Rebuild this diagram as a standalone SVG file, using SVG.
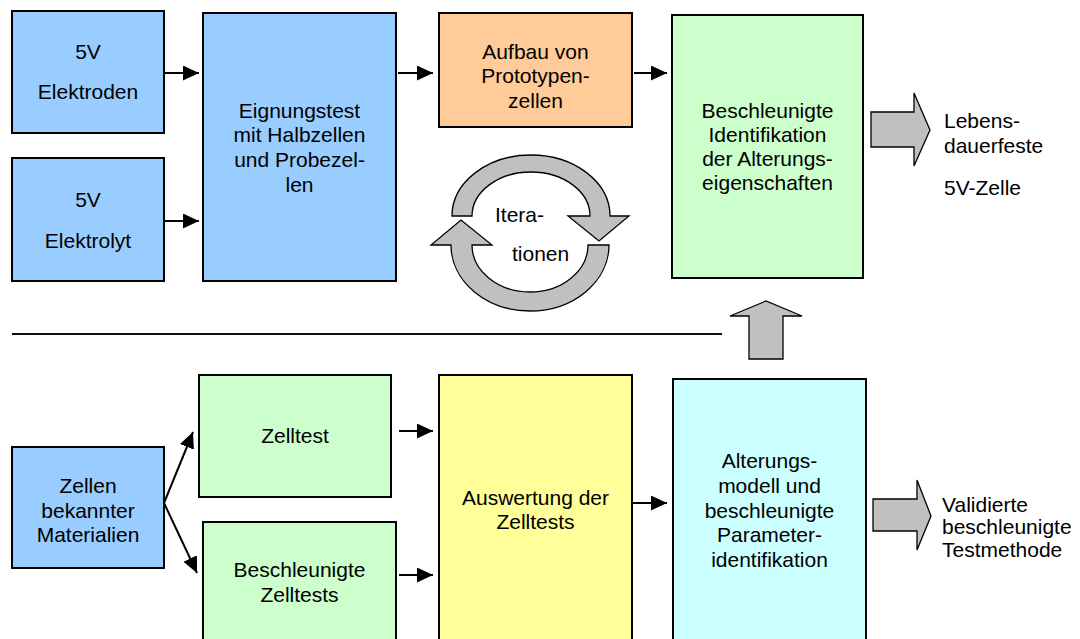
<svg xmlns="http://www.w3.org/2000/svg" width="1080" height="639" viewBox="0 0 1080 639">
<style>
  .box{stroke:#000;stroke-width:2}
  .blue{fill:#99CCFF}
  .orange{fill:#FFCC99}
  .green{fill:#CCFFCC}
  .yellow{fill:#FFFF99}
  .cyan{fill:#CCFFFF}
  .big{fill:#C0C0C0;stroke:#000;stroke-width:1.3;stroke-linejoin:miter}
  text{font-family:"Liberation Sans",Arial,sans-serif;font-size:21px;fill:#000}
  .c{text-anchor:middle}
  .con{stroke:#000;stroke-width:2;fill:none}
</style>
<defs>
  <marker id="ah" markerUnits="userSpaceOnUse" markerWidth="16" markerHeight="16" refX="16" refY="7.5" orient="auto">
    <path d="M0,0 L16,7.5 L0,15 Z" fill="#000"/>
  </marker>
</defs>
<rect width="1080" height="639" fill="#fff"/>

<g id="n-elektroden">
  <rect class="box blue" x="12" y="11" width="152" height="122"/>
  <text class="c" x="88" y="59">5V</text>
  <text class="c" x="88" y="99">Elektroden</text>
</g>
<g id="n-elektrolyt">
  <rect class="box blue" x="12" y="158" width="152" height="123"/>
  <text class="c" x="88" y="207">5V</text>
  <text class="c" x="88" y="248">Elektrolyt</text>
</g>
<g id="n-eignungstest">
  <rect class="box blue" x="203" y="13" width="193" height="268"/>
  <text class="c" x="299.5" y="118">Eignungstest</text>
  <text class="c" x="299.5" y="142">mit Halbzellen</text>
  <text class="c" x="299.5" y="167">und Probezel-</text>
  <text class="c" x="299.5" y="192">len</text>
</g>
<g id="n-aufbau">
  <rect class="box orange" x="439" y="13" width="193" height="114"/>
  <text class="c" x="535.5" y="59">Aufbau von</text>
  <text class="c" x="535.5" y="83">Prototypen-</text>
  <text class="c" x="535.5" y="108">zellen</text>
</g>
<g id="n-identifikation">
  <rect class="box green" x="672" y="15" width="191" height="263"/>
  <text class="c" x="767.5" y="118">Beschleunigte</text>
  <text class="c" x="767.5" y="142">Identifikation</text>
  <text class="c" x="767.5" y="166">der Alterungs-</text>
  <text class="c" x="767.5" y="190">eigenschaften</text>
</g>
<g id="n-lebensdauer">
  <polygon class="big" points="871,112 914,112 914,93 930,130 914,166 914,147 871,147"/>
  <text x="944" y="128">Lebens-</text>
  <text x="944" y="153">dauerfeste</text>
  <text x="944" y="195">5V-Zelle</text>
</g>
<g id="n-iterationen">
  <path class="big" d="M452,216 A79,61 0 0 1 610,216 L629,216 L599,241 L568,216 L590,216 A59,44 0 0 0 472,216 Z"/>
  <path class="big" d="M609,245 A79,66 0 0 1 451,245 L431,245 L461,220 L492,245 L472,245 A58,47 0 0 0 588,245 Z"/>
  <text x="495" y="222">Itera-</text>
  <text x="512" y="261">tionen</text>
</g>

<g id="n-zellen">
  <rect class="box blue" x="12" y="447" width="152" height="121"/>
  <text class="c" x="88" y="493">Zellen</text>
  <text class="c" x="88" y="518">bekannter</text>
  <text class="c" x="88" y="542">Materialien</text>
</g>
<g id="n-zelltest">
  <rect class="box green" x="199" y="375" width="192" height="122"/>
  <text class="c" x="295" y="443">Zelltest</text>
</g>
<g id="n-beschl-zelltests">
  <rect class="box green" x="203" y="522" width="193" height="130"/>
  <text class="c" x="299.5" y="577">Beschleunigte</text>
  <text class="c" x="299.5" y="602">Zelltests</text>
</g>
<g id="n-auswertung">
  <rect class="box yellow" x="439" y="375" width="193" height="277"/>
  <text class="c" x="535.5" y="505">Auswertung der</text>
  <text class="c" x="535.5" y="529">Zelltests</text>
</g>
<g id="n-alterungsmodell">
  <rect class="box cyan" x="673" y="379" width="193" height="273"/>
  <text class="c" x="769.5" y="468">Alterungs-</text>
  <text class="c" x="769.5" y="493">modell und</text>
  <text class="c" x="769.5" y="518">beschleunigte</text>
  <text class="c" x="769.5" y="542">Parameter-</text>
  <text class="c" x="769.5" y="567">identifikation</text>
</g>
<g id="n-validiert">
  <polygon class="big" points="873,499 917,499 917,480 931,516 917,550 917,531 873,531"/>
  <text x="942" y="512">Validierte</text>
  <text x="942" y="534">beschleunigte</text>
  <text x="942" y="557">Testmethode</text>
</g>

<g id="connectors">
  <line class="con" x1="165" y1="73" x2="199" y2="73" marker-end="url(#ah)"/>
  <line class="con" x1="165" y1="221" x2="199" y2="221" marker-end="url(#ah)"/>
  <line class="con" x1="398" y1="73" x2="433" y2="73" marker-end="url(#ah)"/>
  <line class="con" x1="634" y1="73" x2="667" y2="73" marker-end="url(#ah)"/>
  <line class="con" x1="164" y1="503" x2="193" y2="432" marker-end="url(#ah)"/>
  <line class="con" x1="164" y1="503" x2="197" y2="573" marker-end="url(#ah)"/>
  <line class="con" x1="399" y1="431" x2="433" y2="431" marker-end="url(#ah)"/>
  <line class="con" x1="399" y1="575" x2="433" y2="575" marker-end="url(#ah)"/>
  <line class="con" x1="633" y1="503" x2="667" y2="503" marker-end="url(#ah)"/>
  <line x1="12" y1="334" x2="722" y2="334" stroke="#111" stroke-width="2"/>
  <polygon class="big" points="749,359 749,316 730,316 766,301 802,316 783,316 783,359"/>
</g>
</svg>
